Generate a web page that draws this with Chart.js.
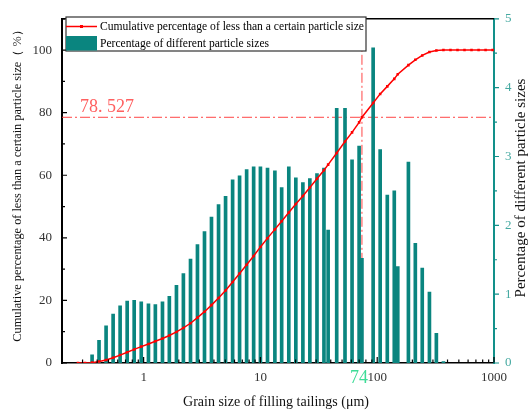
<!DOCTYPE html>
<html>
<head>
<meta charset="utf-8">
<script src="https://cdn.jsdelivr.net/npm/chart.js@4/dist/chart.umd.min.js"></script>
<style>
  html, body { margin: 0; padding: 0; background: #fff; }
</style>
</head>
<body>
<canvas id="main-chart" width="529" height="410"></canvas>
<script>
// grain size (µm), shared by both series
const SIZES = [
  0.274, 0.315,
  0.362, 0.415, 0.477, 0.548, 0.629, 0.723, 0.830, 0.954, 1.10, 1.26,
  1.45, 1.66, 1.91, 2.19, 2.52, 2.89, 3.32, 3.81, 4.38, 5.03,
  5.78, 6.63, 7.62, 8.75, 10.0, 11.5, 13.3, 15.2, 17.5, 20.1,
  23.1, 26.5, 30.5, 35.0,
  38,
  45.0, 53.0, 60.9, 70.0,
  74,
  92.3, 106, 122, 140,
  150,
  185, 212, 243, 280, 321, 369,
  424, 487, 559, 642, 738, 847, 973
];
// cumulative % passing (left axis)
const CUMULATIVE = [
  0, 0,
  0.12, 0.45, 0.99, 1.70, 2.53, 3.43, 4.34, 5.23, 6.09, 6.94,
  7.83, 8.80, 9.93, 11.2, 12.7, 14.5, 16.4, 18.5, 20.8, 23.2,
  25.9, 28.6, 31.4, 34.2, 37.1, 39.9, 42.7, 45.3, 48.1, 50.8,
  53.4, 56.1, 58.9, 61.6,
  63.4,
  67.1, 70.8, 73.7, 76.9,
  78.527,
  83.1, 86.0, 88.4, 90.8,
  92.3,
  95.2, 96.9, 98.3, 99.4, 99.9, 100,
  100, 100, 100, 100, 100, 100, 100
];
// % of each size class (right axis), null = no bar
const FRACTION = [
  null, null,
  0.12, 0.33, 0.54, 0.71, 0.83, 0.90, 0.91, 0.89, 0.86, 0.85,
  0.89, 0.97, 1.13, 1.30, 1.51, 1.72, 1.91, 2.12, 2.30, 2.42,
  2.66, 2.72, 2.81, 2.85, 2.85, 2.83, 2.79, 2.55, 2.85, 2.69,
  2.62, 2.68, 2.75, 2.83,
  1.93,
  3.70, 3.70, 2.95, 3.15,
  1.52,
  4.58, 3.10, 2.44, 2.50,
  1.40,
  2.92, 1.74, 1.38, 1.03, 0.43, 0.02,
  null, null, null, null, null, null, null
];
const REF_SIZE = 74;
const REF_CUM = 78.527;
const X_TICKS = [1, 10, 100, 1000];
const Y_TICKS = [0, 20, 40, 60, 80, 100];
const Y2_TICKS = [0, 1, 2, 3, 4, 5];

const RED = '#ff0000';
const TEAL = '#0a857f';
const TEAL_AXIS = '#12908a';
const TEAL_TEXT = '#45a9a1';
const SERIF = '"Liberation Serif", "Times New Roman", serif';

const lineData = SIZES.map((s, i) => ({ x: s, y: CUMULATIVE[i] }));
const barData = SIZES.map((s, i) => ({ x: s, y: FRACTION[i] })).filter(p => p.y !== null);

function fixTicks(list) {
  return scale => { scale.ticks = list.map(v => ({ value: v })); };
}

// ref lines, inner ticks, legend box, titles
const extras = {
  id: 'extras',
  beforeDatasetsDraw(chart) {
    const { ctx, chartArea: a, scales: { x, y } } = chart;
    const px = x.getPixelForValue(REF_SIZE), py = y.getPixelForValue(REF_CUM);
    ctx.save();
    ctx.strokeStyle = 'rgba(255,50,50,0.9)';
    ctx.lineWidth = 1;
    ctx.setLineDash([10, 3, 2, 3]);
    ctx.beginPath();
    ctx.moveTo(a.left, py); ctx.lineTo(a.right, py);
    ctx.moveTo(px, a.top); ctx.lineTo(px, a.bottom);
    ctx.stroke();
    ctx.restore();
  },
  afterDraw(chart) {
    const { ctx, chartArea: a, scales: { x, y, y2 } } = chart;
    ctx.save();
    // top frame
    ctx.strokeStyle = '#000';
    ctx.lineWidth = 1.6;
    ctx.beginPath(); ctx.moveTo(a.left, a.top); ctx.lineTo(a.right, a.top); ctx.stroke();

    // x ticks (inside, from bottom)
    ctx.lineWidth = 1.2;
    ctx.beginPath();
    for (let e = -1; e <= 3; e++) {
      for (let m = 1; m <= 9; m++) {
        const v = m * Math.pow(10, e);
        if (v < x.min || v > x.max) continue;
        const p = x.getPixelForValue(v);
        const len = m === 1 ? 6 : 3.5;
        ctx.moveTo(p, a.bottom); ctx.lineTo(p, a.bottom - len);
      }
    }
    // left y ticks (inside)
    for (let v = 0; v <= 110; v += 10) {
      const p = y.getPixelForValue(v);
      const len = v % 20 === 0 ? 5 : 3;
      ctx.moveTo(a.left, p); ctx.lineTo(a.left + len, p);
    }
    ctx.stroke();
    // right y ticks (outside)
    ctx.strokeStyle = TEAL_AXIS;
    ctx.beginPath();
    for (let v = 0; v <= 5; v += 0.5) {
      const p = y2.getPixelForValue(v);
      const len = v % 1 === 0 ? 5 : 3;
      ctx.moveTo(a.right, p); ctx.lineTo(a.right + len, p);
    }
    ctx.stroke();

    // annotation labels
    ctx.font = '18px ' + SERIF;
    ctx.fillStyle = '#ff6060';
    ctx.textAlign = 'left';
    ctx.textBaseline = 'alphabetic';
    ctx.fillText('78. 527', 80, y.getPixelForValue(REF_CUM) - 5);
    ctx.fillStyle = '#3ddc97';
    ctx.textAlign = 'center';
    ctx.fillText(String(REF_SIZE), x.getPixelForValue(REF_SIZE) - 3, 383);

    // legend
    const lx = 66, ly = 17, lw = 300, lh = 34;
    ctx.fillStyle = '#fff';
    ctx.fillRect(lx, ly, lw, lh);
    ctx.strokeStyle = '#333';
    ctx.lineWidth = 1.2;
    ctx.strokeRect(lx, ly, lw, lh);
    ctx.strokeStyle = RED;
    ctx.lineWidth = 1.5;
    ctx.beginPath(); ctx.moveTo(lx, 26.5); ctx.lineTo(lx + 31, 26.5); ctx.stroke();
    ctx.fillStyle = RED;
    ctx.fillRect(lx + 14, 25, 3, 3);
    ctx.fillStyle = TEAL;
    ctx.fillRect(lx, 36, 31, 14.5);
    ctx.fillStyle = '#000';
    ctx.font = '11.6px ' + SERIF;
    ctx.textAlign = 'left';
    ctx.textBaseline = 'middle';
    ctx.fillText(chart.data.datasets[0].label, lx + 34, 27);
    ctx.fillText(chart.data.datasets[1].label, lx + 34, 43.5);

    // axis titles
    ctx.fillStyle = '#111';
    ctx.textAlign = 'center';
    ctx.font = '14px ' + SERIF;
    ctx.fillText('Grain size of filling tailings (\u03bcm)', 276, 402);
    ctx.save();
    ctx.font = '12.3px ' + SERIF;
    ctx.translate(18, 183);
    ctx.rotate(-Math.PI / 2);
    ctx.fillText('Cumulative percentage of less than a certain particle size\uff08 %\uff09', 0, 0);
    ctx.restore();
    ctx.save();
    ctx.font = '15px ' + SERIF;
    ctx.translate(521, 188);
    ctx.rotate(-Math.PI / 2);
    ctx.fillText('Percentage of different particle sizes', 0, 0);
    ctx.restore();
    ctx.restore();
  }
};

new Chart(document.getElementById('main-chart').getContext('2d'), {
  type: 'bar',
  data: {
    datasets: [
      {
        type: 'line',
        label: 'Cumulative percentage of less than a certain particle size',
        data: lineData,
        yAxisID: 'y',
        borderColor: RED,
        backgroundColor: RED,
        borderWidth: 1.5,
        pointStyle: 'rect',
        pointRadius: 1.8,
        pointBorderWidth: 0,
        tension: 0,
        order: 0
      },
      {
        type: 'bar',
        label: 'Percentage of different particle sizes',
        data: barData,
        yAxisID: 'y2',
        backgroundColor: TEAL,
        borderWidth: 0,
        barThickness: 3,
        order: 1
      }
    ]
  },
  options: {
    responsive: false,
    devicePixelRatio: 1,
    animation: false,
    layout: { padding: { top: 12, left: 0, right: 0, bottom: 0 } },
    plugins: { legend: { display: false }, tooltip: { enabled: false } },
    scales: {
      x: {
        type: 'logarithmic',
        min: 0.2, max: 1000,
        afterBuildTicks: fixTicks(X_TICKS),
        afterFit: s => { s.height = 47; },
        grid: { display: false, drawTicks: false, tickLength: 0 },
        border: { display: true, color: '#000', width: 1.6 },
        ticks: { color: '#333', font: { family: SERIF, size: 13 }, padding: 7, maxRotation: 0,
                 callback: v => String(v) }
      },
      y: {
        position: 'left',
        min: 0, max: 110,
        afterBuildTicks: fixTicks(Y_TICKS),
        afterFit: s => { s.width = 62; },
        grid: { display: false, drawTicks: false, tickLength: 0 },
        border: { display: true, color: '#000', width: 2 },
        ticks: { color: '#333', font: { family: SERIF, size: 13 }, padding: 10 }
      },
      y2: {
        position: 'right',
        min: 0, max: 5,
        afterBuildTicks: fixTicks(Y2_TICKS),
        afterFit: s => { s.width = 35; },
        grid: { display: false, drawTicks: false, tickLength: 0 },
        border: { display: true, color: TEAL_AXIS, width: 2 },
        ticks: { color: TEAL_TEXT, font: { family: SERIF, size: 13 }, padding: 11 }
      }
    }
  },
  plugins: [extras]
});
</script>
</body>
</html>
